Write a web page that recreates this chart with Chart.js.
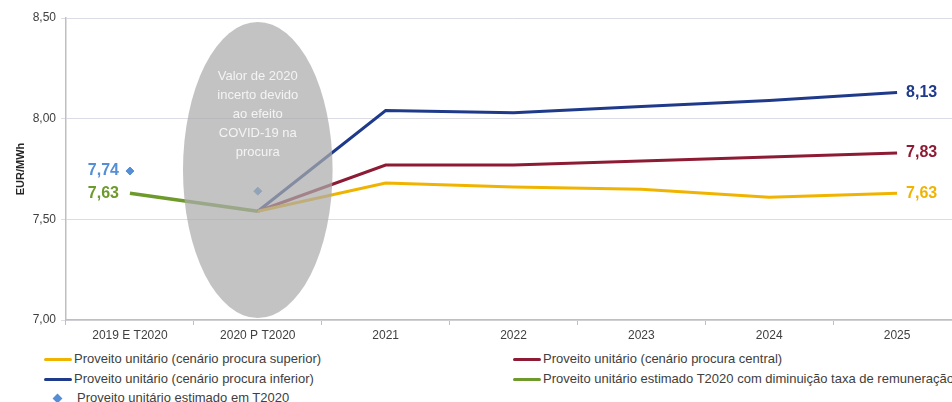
<!DOCTYPE html>
<html>
<head>
<meta charset="utf-8">
<script src="https://cdn.jsdelivr.net/npm/chart.js@4/dist/chart.umd.min.js"></script>
<style>
  html, body { margin: 0; padding: 0; background: #fff; overflow: hidden; }
  #wrap { position: relative; width: 952px; height: 402px; overflow: hidden; }
  #chart { position: absolute; left: 0; top: 0; }
  .leg { position: absolute; font: 13px "Liberation Sans", Arial, sans-serif; color: #404040; white-space: nowrap; line-height: 15px; }
  .leg .ln { display: inline-block; width: 28px; height: 3px; vertical-align: middle; margin-right: 2px; border-radius: 2px; }
  .leg .dm { display: inline-block; width: 7px; height: 7px; transform: rotate(45deg); background: #558ed5; margin: 0 16px 0 10px; vertical-align: middle; }
</style>
</head>
<body>
<div id="wrap">
  <canvas id="chart"></canvas>
  <div class="leg" style="left:44px;top:351px"><span class="ln" style="background:#f0b400"></span>Proveito unitário (cenário procura superior)</div>
  <div class="leg" style="left:513px;top:351px"><span class="ln" style="background:#8e1b34"></span>Proveito unitário (cenário procura central)</div>
  <div class="leg" style="left:44px;top:371px"><span class="ln" style="background:#1f3a8a"></span>Proveito unitário (cenário procura inferior)</div>
  <div class="leg" style="left:513px;top:371px"><span class="ln" style="background:#6e9a2c"></span>Proveito unitário estimado T2020 com diminuição taxa de remuneração</div>
  <div class="leg" style="left:44px;top:390px"><span class="dm"></span>Proveito unitário estimado em T2020</div>
</div>
<script>
// Categories and series
const categories = ['2019 E T2020', '2020 P T2020', '2021', '2022', '2023', '2024', '2025'];
const superiorValues = [null, 7.54, 7.68, 7.66, 7.65, 7.61, 7.63];
const centralValues = [null, 7.54, 7.77, 7.77, 7.79, 7.81, 7.83];
const inferiorValues = [null, 7.54, 8.04, 8.03, 8.06, 8.09, 8.13];
const greenValues = [7.63, 7.54, null, null, null, null, null];
const estimatedValues = [7.74, 7.64, null, null, null, null, null];
const yTicks = [7.0, 7.5, 8.0, 8.5];

// Labels shown next to points: [dataset index, point index, text, side]
const pointLabels = [
  [4, 0, '7,74', 'left'],
  [3, 0, '7,63', 'left'],
  [2, 6, '8,13', 'right'],
  [1, 6, '7,83', 'right'],
  [0, 6, '7,63', 'right'],
];

// Uncertainty ellipse around 2020 (category index, y top, y bottom, half width in categories)
const ellipseCat = 1;
const ellipseTop = 8.48;
const ellipseBottom = 7.01;
const ellipseHalfWidth = 0.585;
const ellipseText = ['Valor de 2020', 'incerto devido', 'ao efeito', 'COVID-19 na', 'procura'];

const colors = ['#f0b400', '#8e1b34', '#1f3a8a', '#6e9a2c', '#558ed5'];

const canvas = document.getElementById('chart');
canvas.width = 966;
canvas.height = 345;
canvas.style.width = '966px';
canvas.style.height = '345px';

const ellipsePlugin = {
  id: 'ellipse',
  afterDatasetsDraw(chart) {
    const ctx = chart.ctx;
    const x = chart.scales.x;
    const y = chart.scales.y;
    const cx = x.getPixelForValue(ellipseCat);
    const step = x.getPixelForValue(1) - x.getPixelForValue(0);
    const top = y.getPixelForValue(ellipseTop);
    const bottom = y.getPixelForValue(ellipseBottom);
    ctx.save();
    ctx.beginPath();
    ctx.ellipse(cx, (top + bottom) / 2, step * ellipseHalfWidth, (bottom - top) / 2, 0, 0, Math.PI * 2);
    ctx.fillStyle = 'rgba(172,172,172,0.72)';
    ctx.fill();
    ctx.fillStyle = '#f4f4f4';
    ctx.font = '13px "Liberation Sans", Arial, sans-serif';
    ctx.textAlign = 'center';
    ctx.textBaseline = 'middle';
    ellipseText.forEach((t, i) => ctx.fillText(t, cx, top + 54 + i * 19));

    // value labels
    ctx.font = 'bold 16px "Liberation Sans", Arial, sans-serif';
    pointLabels.forEach(([di, pi, txt, side]) => {
      const el = chart.getDatasetMeta(di).data[pi];
      ctx.fillStyle = di === 4 ? '#558ed5' : colors[di];
      ctx.textAlign = side === 'left' ? 'right' : 'left';
      ctx.fillText(txt, side === 'left' ? el.x - 11 : el.x + 9, el.y);
    });
    ctx.restore();
  }
};

new Chart(canvas, {
  type: 'line',
  data: {
    labels: categories,
    datasets: [
      { label: 'Proveito unitário (cenário procura superior)', data: superiorValues, borderColor: colors[0], borderWidth: 3, pointRadius: 0 },
      { label: 'Proveito unitário (cenário procura central)', data: centralValues, borderColor: colors[1], borderWidth: 3, pointRadius: 0 },
      { label: 'Proveito unitário (cenário procura inferior)', data: inferiorValues, borderColor: colors[2], borderWidth: 3, pointRadius: 0 },
      { label: 'Proveito unitário estimado T2020 com diminuição taxa de remuneração', data: greenValues, borderColor: colors[3], borderWidth: 3.5, pointRadius: 0 },
      { label: 'Proveito unitário estimado em T2020', data: estimatedValues, showLine: false, pointStyle: 'rectRot', pointRadius: 4, pointBackgroundColor: colors[4], pointBorderColor: colors[4], borderColor: colors[4] },
    ],
  },
  options: {
    responsive: false,
    animation: false,
    layout: { padding: { top: 18, right: 1, left: 10, bottom: 0 } },
    plugins: { legend: { display: false }, tooltip: { enabled: false } },
    scales: {
      x: {
        offset: true,
        grid: { offset: true, drawOnChartArea: false, tickLength: 5, color: '#bfbfbf' },
        border: { color: '#bfbfbf', width: 1.5 },
        ticks: { color: '#404040', font: { family: '"Liberation Sans", Arial, sans-serif', size: 12 }, maxRotation: 0, padding: 3 },
        afterFit: s => { s.height = 25; },
      },
      y: {
        min: 7.0,
        max: 8.5,
        afterBuildTicks: s => { s.ticks = yTicks.map(v => ({ value: v })); },
        grid: { color: '#dcdce6', tickLength: 5 },
        border: { color: '#bfbfbf', width: 1.5 },
        ticks: {
          color: '#404040',
          font: { family: '"Liberation Sans", Arial, sans-serif', size: 12 },
          padding: 5,
          callback: v => v.toFixed(2).replace('.', ','),
        },
        title: { display: true, text: 'EUR/MWh', color: '#262626', font: { family: '"Liberation Sans", Arial, sans-serif', size: 11, weight: 'bold' }, padding: 4 },
        afterFit: s => { s.width = 56; },
      },
    },
  },
  plugins: [ellipsePlugin],
});
</script>
</body>
</html>
